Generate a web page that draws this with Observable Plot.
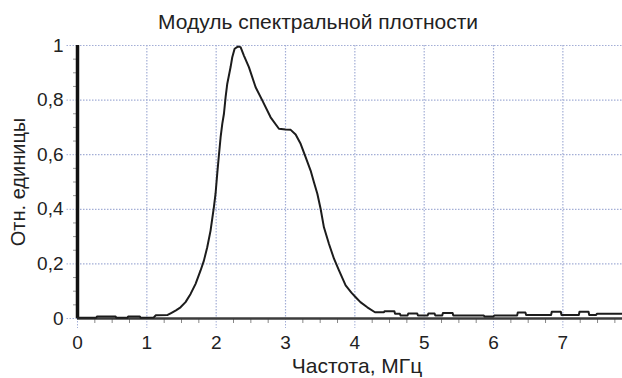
<!DOCTYPE html>
<html>
<head>
<meta charset="utf-8">
<script src="https://cdn.jsdelivr.net/npm/d3@7"></script>
<script src="https://cdn.jsdelivr.net/npm/@observablehq/plot@0.6"></script>
<style>
  html, body { margin: 0; padding: 0; background: #ffffff; }
  #chart { width: 622px; height: 378px; }
</style>
</head>
<body>
<div id="chart"></div>
<script>
const title = "Модуль спектральной плотности";
const xLabel = "Частота, МГц";
const yLabel = "Отн. единицы";

const xTicks = [0, 1, 2, 3, 4, 5, 6, 7];
const yTicks = [0, 0.2, 0.4, 0.6, 0.8, 1];
const minorX = [0.25,0.5,0.75,1.25,1.5,1.75,2.25,2.5,2.75,3.25,3.5,3.75,4.25,4.5,4.75,5.25,5.5,5.75,6.25,6.5,6.75,7.25,7.5,7.75];
const minorY = [0.05,0.1,0.15,0.25,0.3,0.35,0.45,0.5,0.55,0.65,0.7,0.75,0.85,0.9,0.95];

const freq = [0, 0.27, 0.28, 0.55, 0.56, 0.72, 0.73, 0.9, 0.91, 1.1, 1.13, 1.3, 1.35, 1.42, 1.486, 1.558, 1.631, 1.703, 1.775, 1.823, 1.871, 1.919, 1.967, 1.991, 2.015, 2.039, 2.064, 2.088, 2.112, 2.136, 2.16, 2.208, 2.232, 2.266, 2.313, 2.352, 2.4, 2.472, 2.569, 2.665, 2.785, 2.905, 3.0, 3.075, 3.146, 3.218, 3.29, 3.362, 3.41, 3.459, 3.506, 3.554, 3.627, 3.699, 3.771, 3.867, 3.95, 4.012, 4.08, 4.18, 4.29, 4.42, 4.43, 4.57, 4.58, 4.65, 4.66, 4.76, 4.77, 4.9, 4.91, 5.05, 5.06, 5.15, 5.16, 5.26, 5.27, 5.41, 5.42, 5.86, 5.87, 6.0, 6.01, 6.34, 6.35, 6.46, 6.47, 6.83, 6.84, 6.97, 6.98, 7.23, 7.24, 7.37, 7.38, 7.48, 7.49, 7.86];
const amp  = [0.003, 0.003, 0.007, 0.007, 0.003, 0.003, 0.007, 0.007, 0.003, 0.004, 0.012, 0.013, 0.02, 0.03, 0.041, 0.06, 0.09, 0.127, 0.176, 0.212, 0.261, 0.322, 0.408, 0.457, 0.53, 0.597, 0.664, 0.713, 0.75, 0.811, 0.86, 0.921, 0.957, 0.988, 0.996, 0.994, 0.963, 0.921, 0.847, 0.799, 0.737, 0.695, 0.692, 0.691, 0.674, 0.64, 0.591, 0.542, 0.499, 0.457, 0.402, 0.334, 0.273, 0.219, 0.176, 0.121, 0.095, 0.078, 0.06, 0.041, 0.023, 0.023, 0.027, 0.027, 0.017, 0.017, 0.011, 0.011, 0.018, 0.018, 0.011, 0.011, 0.018, 0.018, 0.011, 0.011, 0.02, 0.02, 0.011, 0.011, 0.007, 0.007, 0.011, 0.011, 0.022, 0.022, 0.013, 0.013, 0.025, 0.025, 0.013, 0.013, 0.025, 0.025, 0.013, 0.013, 0.017, 0.017];

const spectrum = freq.map((f, i) => ({f, a: amp[i]}));

const gridColor = "#a3aed6";
const fmt = d => String(d).replace(".", ",");
const font = "'Liberation Sans', Arial, sans-serif";

const chart = Plot.plot({
  width: 622,
  height: 378,
  marginLeft: 77,
  marginRight: 0,
  marginTop: 45,
  marginBottom: 60,
  style: {fontFamily: font, color: "#222", background: "#ffffff", overflow: "visible"},
  x: {domain: [0, 7.86], label: null},
  y: {domain: [0, 1], label: null},
  marks: [
    Plot.gridX(xTicks, {stroke: gridColor, strokeOpacity: 1, strokeDasharray: "1.5,1.5", strokeWidth: 1.2}),
    Plot.gridY(yTicks, {stroke: gridColor, strokeOpacity: 1, strokeDasharray: "1.5,1.5", strokeWidth: 1.2}),
    Plot.axisX(xTicks, {tickSize: 10, tickPadding: 7, tickFormat: fmt, fontSize: 19, stroke: gridColor, strokeDasharray: "1.5,1.5", label: null}),
    Plot.axisY(yTicks, {tickSize: 12, tickPadding: 2, tickFormat: fmt, fontSize: 19, stroke: gridColor, strokeDasharray: "1.5,1.5", label: null}),
    Plot.axisX(minorX, {tickSize: 5, tickFormat: () => "", stroke: "#888", label: null}),
    Plot.axisY(minorY, {tickSize: 4, tickFormat: () => "", stroke: "#999", label: null}),
    Plot.ruleY([0], {stroke: "#3c3c3c", strokeWidth: 2.5}),
    Plot.ruleX([0], {stroke: "#111", strokeWidth: 3.5}),
    Plot.line(spectrum, {x: "f", y: "a", stroke: "#1c1c1c", strokeWidth: 2}),
    Plot.text([title], {frameAnchor: "top", text: d => d, dx: -32, dy: -23, lineAnchor: "middle", textAnchor: "middle", fontSize: 21, fill: "#222"}),
    Plot.text([xLabel], {frameAnchor: "bottom", text: d => d, dx: 7, dy: 48, lineAnchor: "middle", textAnchor: "middle", fontSize: 21, fill: "#222"}),
    Plot.text([yLabel], {frameAnchor: "left", text: d => d, dx: -59, rotate: -90, lineAnchor: "middle", textAnchor: "middle", fontSize: 20, fill: "#222"})
  ]
});
document.getElementById("chart").appendChild(chart);
</script>
</body>
</html>
